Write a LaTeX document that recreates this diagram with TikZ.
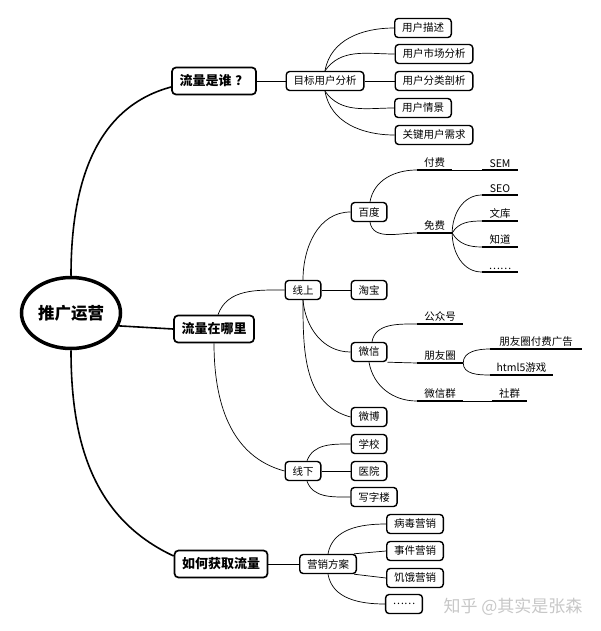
\documentclass[tikz,border=0pt]{standalone}
\usepackage{fontspec}
\setmainfont{Noto Sans CJK SC}
\usetikzlibrary{shapes.geometric}

\begin{document}
\begin{tikzpicture}[x=1pt, y=1pt,
            rootnode/.style={draw, ellipse, line width=3.5pt, minimum width=99pt, minimum height=71pt,
                inner sep=0pt, font=\bfseries\fontsize{16.5}{20}\selectfont},
            topic/.style={draw, rounded corners=4pt, line width=1.7pt, minimum height=27pt,
                inner xsep=7.5pt, inner ysep=0pt, font=\bfseries\fontsize{13}{15}\selectfont},
            sub/.style={draw, rounded corners=3.5pt, line width=1.4pt, minimum height=19pt,
                inner xsep=7.3pt, inner ysep=0pt, font=\fontsize{10.5}{12}\selectfont},
            leaf/.style={anchor=south, minimum width=#1, inner xsep=0pt, inner ysep=2.5pt,
                font=\fontsize{10.5}{12}\selectfont,
                append after command={(\tikzlastnode.south west) edge[line width=1.8pt] (\tikzlastnode.south east)}},
            leaf/.default=35pt,
            trunk/.style={line width=1.6pt},
            twig/.style={line width=0.7pt},
            stamp/.style={text=black!22, font=\fontsize{17}{20}\selectfont}]
            \useasboundingbox (0,0) rectangle (600,-631);

            \node[rootnode] (root) at (71,-313) {推广运营};

            \node[topic] (who) at (214,-81) {流量是谁\hspace{4pt}？};
            \node[topic] (where) at (214,-329) {流量在哪里};
            \node[topic] (how) at (221,-564) {如何获取流量};

            \draw[trunk] (root.north) to[out=90, in=195] ([yshift=-6pt]who.west);
            \draw[trunk] (root.-15) -- (where.west);
            \draw[trunk] (root.south) to[out=-90, in=155] ([yshift=8pt]how.west);

            % 流量是谁
            \node[sub] (target) at (325,-81) {目标用户分析};
            \node[sub] (desc) at (423,-28) {用户描述};
            \node[sub] (market) at (434,-54) {用户市场分析};
            \node[sub] (classify) at (434,-81) {用户分类剖析};
            \node[sub] (scene) at (423,-108) {用户情景};
            \node[sub] (need) at (434,-135) {关键用户需求};

            \draw[twig] (who) -- (target);
            \draw[twig] (target.north) to[out=80, in=180] (desc.west);
            \draw[twig] (target.north) to[out=55, in=180] (market.west);
            \draw[twig] (target) -- (classify);
            \draw[twig] (target.south) to[out=-55, in=180] (scene.west);
            \draw[twig] (target.south) to[out=-80, in=180] (need.west);

            % 流量在哪里
            \node[sub] (online) at (303,-290) {线上};
            \node[sub] (offline) at (303,-471) {线下};
            \draw[twig] ([xshift=4pt]where.north) to[out=70, in=180] (online.west);
            \draw[twig] (where.south) to[out=-90, in=165] (offline.west);

            \node[sub] (baidu) at (369,-212) {百度};
            \node[sub] (taobao) at (369,-290) {淘宝};
            \node[sub] (wechat) at (369,-352) {微信};
            \node[sub] (weibo) at (369,-417) {微博};
            \draw[twig] (online.north) to[out=90, in=180] (baidu.west);
            \draw[twig] (online) -- (taobao);
            \draw[twig] (online.south) to[out=-85, in=180] (wechat.west);
            \draw[twig] (online.south) to[out=-90, in=165] (weibo.west);

            \node[sub] (school) at (369,-444) {学校};
            \node[sub] (hospital) at (369,-471) {医院};
            \node[sub] (office) at (374,-497) {写字楼};
            \draw[twig] ([xshift=4pt]offline.north) to[out=70, in=180] (school.west);
            \draw[twig] (offline) -- (hospital);
            \draw[twig] ([xshift=4pt]offline.south) to[out=-70, in=180] (office.west);

            \node[leaf] (paid) at (434.5,-170) {付费};
            \node[leaf] (free) at (434.5,-233) {免费};
            \node[leaf=36pt] (sem) at (500,-170) {SEM};
            \node[leaf=36pt] (seo) at (500,-195) {SEO};
            \node[leaf=36pt] (wenku) at (500,-221) {文库};
            \node[leaf=36pt] (zhidao) at (500,-247) {知道};
            \node[leaf=36pt] (etc) at (500,-272) {……};
            \draw[twig] ([xshift=1pt]baidu.north) to[out=80, in=180] (paid.south west);
            \draw[twig] ([xshift=1pt]baidu.south) to[out=-80, in=180] (free.south west);
            \draw[twig] (paid.south east) -- (sem.south west);
            \draw[twig] (free.south east) to[out=90, in=180] (seo.south west);
            \draw[twig] (free.south east) to[out=60, in=180] (wenku.south west);
            \draw[twig] (free.south east) to[out=-60, in=180] (zhidao.south west);
            \draw[twig] (free.south east) to[out=-90, in=180] (etc.south west);

            \node[leaf=46pt] (gzh) at (440,-324) {公众号};
            \node[leaf=46pt] (pyq) at (440,-363) {朋友圈};
            \node[leaf=46pt] (wxq) at (440,-401) {微信群};
            \node[leaf=92pt] (ad) at (536,-349) {朋友圈付费广告};
            \node[leaf=63pt] (h5) at (521.5,-375) {html5游戏};
            \node[leaf] (group) at (509.5,-401) {社群};
            \draw[twig] ([xshift=3pt]wechat.north) to[out=80, in=180] (gzh.south west);
            \draw[twig] (wechat.south east) -- (pyq.south west);
            \draw[twig] (wechat.south) to[out=-80, in=180] (wxq.south west);
            \draw[twig] (pyq.south east) to[out=90, in=180] (ad.south west);
            \draw[twig] (pyq.south east) to[out=-90, in=180] (h5.south west);
            \draw[twig] (wxq.south east) -- (group.south west);

            % 如何获取流量
            \node[sub] (plan) at (328,-564) {营销方案};
            \node[sub] (viral) at (415,-524) {病毒营销};
            \node[sub] (event) at (415,-551) {事件营销};
            \node[sub] (hunger) at (415,-578) {饥饿营销};
            \node[sub] (more) at (404,-604) {……};
            \draw[twig] (how) -- (plan);
            \draw[twig] (plan.north) to[out=80, in=180] (viral.west);
            \draw[twig] ([xshift=-3pt]plan.north east) -- (event.west);
            \draw[twig] ([xshift=-3pt]plan.south east) -- (hunger.west);
            \draw[twig] (plan.south) to[out=-80, in=180] (more.west);

            \node[stamp] (zhihu) at (513,-607) {知乎 @其实是张森};
            \end{tikzpicture}
\end{document}
